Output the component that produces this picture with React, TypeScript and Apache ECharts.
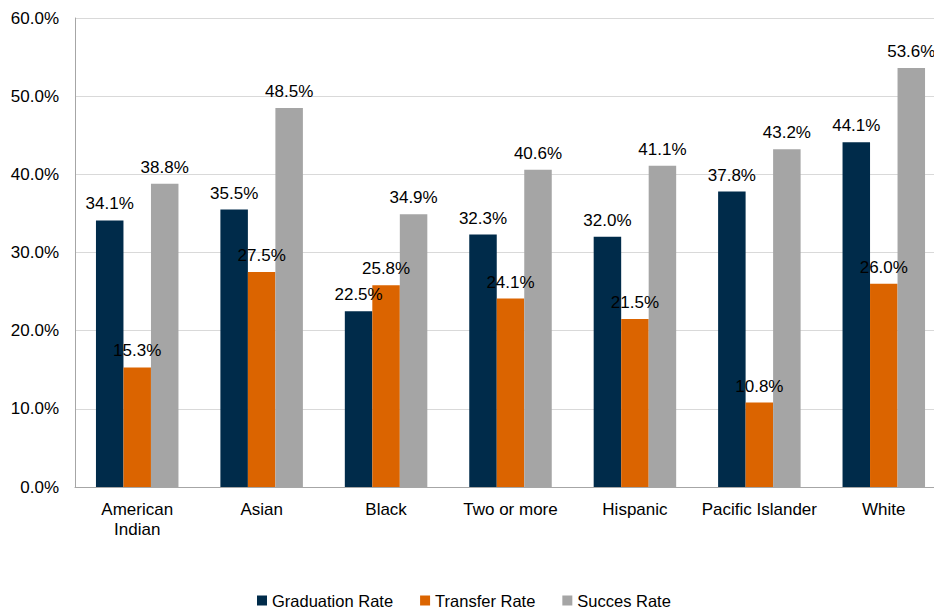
import React, { useEffect, useRef } from "react";
import * as echarts from "echarts";

const categories = ["American\nIndian", "Asian", "Black", "Two or more", "Hispanic", "Pacific Islander", "White"];
const graduationRate = [34.1, 35.5, 22.5, 32.3, 32.0, 37.8, 44.1];
const transferRate = [15.3, 27.5, 25.8, 24.1, 21.5, 10.8, 26.0];
const successRate = [38.8, 48.5, 34.9, 40.6, 41.1, 43.2, 53.6];
const seriesNames = ["Graduation Rate", "Transfer Rate", "Succes Rate"];
const colors = ["#002B4A", "#DB6400", "#A5A5A5"];

const FONT = "'Liberation Sans', Arial, sans-serif";

export default function App() {
  const ref = useRef<HTMLDivElement>(null);
  useEffect(() => {
    if (!ref.current) return;
    const chart = echarts.init(ref.current, null, { renderer: "svg" });
    const mk = (name: string, data: number[], color: string) => ({
      name,
      type: "bar",
      data,
      barWidth: 27.5,
      barGap: "0%",
      itemStyle: { color },
      label: {
        show: true,
        position: "top",
        distance: 8,
        color: "#000",
        fontSize: 17,
        fontFamily: FONT,
        formatter: (p: any) => p.value.toFixed(1) + "%",
      },
    });
    chart.setOption({
      animation: false,
      textStyle: { fontFamily: FONT },
      grid: { left: 75, top: 18, width: 871, height: 469, containLabel: false },
      legend: {
        data: seriesNames,
        top: 587,
        left: 252,
        icon: "rect",
        itemWidth: 10,
        itemHeight: 10,
        itemGap: 27,
        textStyle: { fontSize: 16.5, color: "#000", fontFamily: FONT },
      },
      xAxis: {
        type: "category",
        data: categories,
        axisLine: { lineStyle: { color: "#a6a6a6" } },
        axisTick: { show: false },
        axisLabel: { fontSize: 17, color: "#000", margin: 12, lineHeight: 20, fontFamily: FONT, interval: 0 },
      },
      yAxis: {
        type: "value",
        min: 0,
        max: 60,
        interval: 10,
        axisLine: { show: true, lineStyle: { color: "#a6a6a6" } },
        axisTick: { show: false },
        splitLine: { lineStyle: { color: "#d9d9d9" } },
        axisLabel: {
          fontSize: 17,
          color: "#000",
          margin: 16,
          fontFamily: FONT,
          formatter: (v: number) => v.toFixed(1) + "%",
        },
      },
      series: [
        mk(seriesNames[0], graduationRate, colors[0]),
        mk(seriesNames[1], transferRate, colors[1]),
        mk(seriesNames[2], successRate, colors[2]),
      ],
    });
    return () => chart.dispose();
  }, []);
  return (
    <div style={{ position: "fixed", left: 0, top: 0, width: 934, height: 609, overflow: "hidden", background: "#fff" }}>
      <div ref={ref} style={{ position: "absolute", left: 0, top: 0, width: 960, height: 609 }} />
    </div>
  );
}
